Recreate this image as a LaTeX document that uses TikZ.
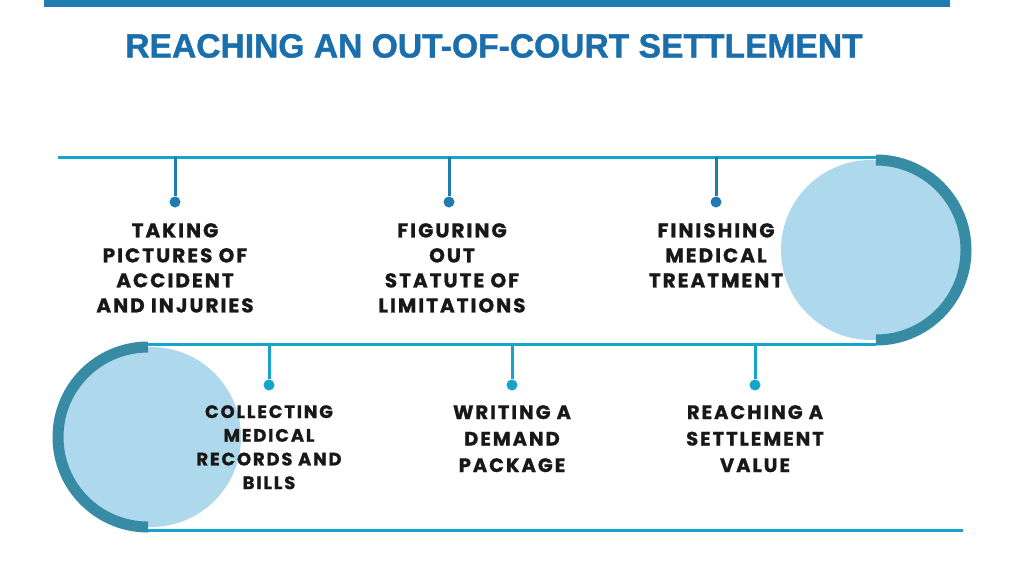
\documentclass[tikz,border=0pt]{standalone}
\usepackage{fontspec}
\newfontfamily\titlefont{Liberation Sans}[BoldFeatures={FakeBold=1.2}]
\newfontfamily\lblfont{Poppins}[LetterSpace=10, BoldFeatures={FakeBold=1}]
\definecolor{barblue}{RGB}{31,123,176}
\definecolor{titleblue}{RGB}{26,110,172}
\definecolor{track}{RGB}{22,164,202}
\definecolor{circfill}{RGB}{174,216,236}
\definecolor{arcteal}{RGB}{55,139,165}
\definecolor{ink}{RGB}{24,24,24}
\tikzset{
  trackline/.style={draw=track, line width=3pt},
  ringarc/.style={draw=arcteal, line width=11pt},
  bigcirc/.style={circle, fill=circfill, minimum size=180pt, inner sep=0pt},
  dotA/.style={circle, fill=barblue, minimum size=11pt, inner sep=0pt},
  dotB/.style={circle, fill=track, minimum size=11pt, inner sep=0pt},
  tickA/.style={draw=barblue, line width=3pt},
  tickB/.style={draw=track, line width=3pt},
  lblbase/.style={align=center, inner sep=0pt, anchor=north, text=ink},
  lblA/.style={lblbase, font=\lblfont\bfseries\fontsize{20}{25}\selectfont},
  lblB/.style={lblbase, font=\lblfont\bfseries\fontsize{18}{23.7}\selectfont},
  lblC/.style={lblbase, font=\lblfont\bfseries\fontsize{19.5}{26.5}\selectfont},
  titlestyle/.style={font=\titlefont\bfseries\fontsize{33.6}{36}\selectfont, text=titleblue, anchor=base, inner sep=0pt}
}
\begin{document}
\begin{tikzpicture}[x=1pt,y=-1pt]
\useasboundingbox (0,0) rectangle (1024,576);
\fill[white] (0,0) rectangle (1024,576);
\fill[barblue] (44,0) rectangle (950,7);
\node[titlestyle] (title) at (494,57.5) {REACHING AN OUT-OF-COURT SETTLEMENT};
% circles
\node[bigcirc] (rc) at (871,250) {};
\node[bigcirc] (lc) at (151,437) {};
% track lines
\coordinate (l1a) at (58,157);
\coordinate (l1b) at (876,157);
\coordinate (l2a) at (148,344);
\coordinate (l2b) at (876,344);
\coordinate (l3a) at (148,530);
\coordinate (l3b) at (963,530);
\draw[trackline] (l1a) -- (l1b);
\draw[trackline] (l2a) -- (l2b);
\draw[trackline] (l3a) -- (l3b);
% arcs
\draw[ringarc] (876,160) arc[start angle=90, end angle=-90, radius=90pt];
\draw[ringarc] (148,347) arc[start angle=90, end angle=270, radius=90pt];
% ticks top
\coordinate (ta1) at (175,157);
\coordinate (ta2) at (449,157);
\coordinate (ta3) at (716,157);
\node[dotA] (da1) at (175,202) {};
\node[dotA] (da2) at (449,202) {};
\node[dotA] (da3) at (716,202) {};
\draw[tickA] (ta1) -- (da1);
\draw[tickA] (ta2) -- (da2);
\draw[tickA] (ta3) -- (da3);
% ticks bottom
\coordinate (tb1) at (269,344);
\coordinate (tb2) at (512,344);
\coordinate (tb3) at (755,344);
\node[dotB] (db1) at (269,385) {};
\node[dotB] (db2) at (512,385) {};
\node[dotB] (db3) at (755,385) {};
\draw[tickB] (tb1) -- (db1);
\draw[tickB] (tb2) -- (db2);
\draw[tickB] (tb3) -- (db3);
% labels
\node[lblA] (s1) at (175,223) {TAKING\\PICTURES OF\\ACCIDENT\\AND INJURIES};
\node[lblA] (s2) at (452,223) {FIGURING\\OUT\\STATUTE OF\\LIMITATIONS};
\node[lblA] (s3) at (716,223) {FINISHING\\MEDICAL\\TREATMENT};
\node[lblB] (s4) at (269,405) {COLLECTING\\MEDICAL\\RECORDS AND\\BILLS};
\node[lblC] (s5) at (512,405) {WRITING A\\DEMAND\\PACKAGE};
\node[lblC] (s6) at (755,405) {REACHING A\\SETTLEMENT\\VALUE};
\end{tikzpicture}
\end{document}
